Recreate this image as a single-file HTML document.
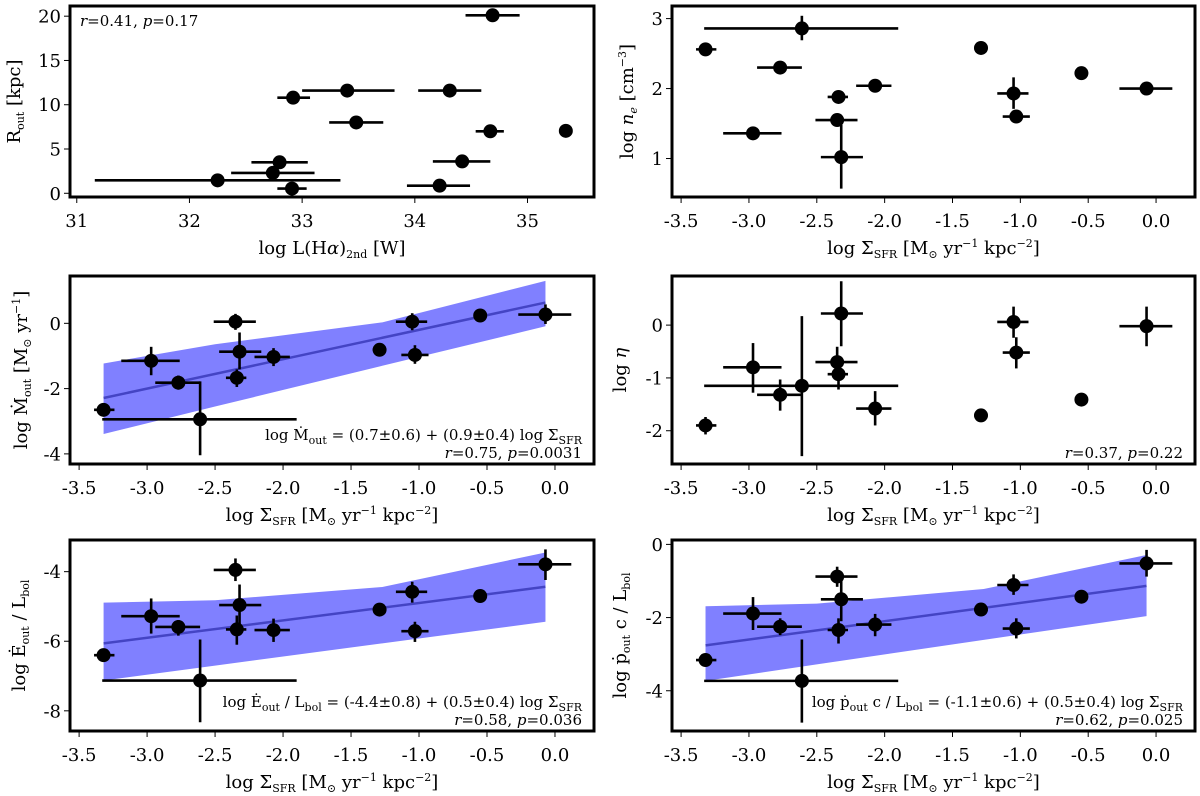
<!DOCTYPE html>
<html><head><meta charset="utf-8"><title>Outflow correlations</title>
<style>
html,body{margin:0;padding:0;background:#fff;}
svg{display:block;font-family:"DejaVu Serif","Liberation Serif",serif;}
</style></head>
<body>
<svg id="fig" width="1200" height="796" viewBox="0 0 1200 796" xmlns="http://www.w3.org/2000/svg"></svg>
<script>
// ---------- data ----------
// Panel 1: R_out vs log L(Halpha)_2nd
const lumX   = [34.69, 33.40, 32.92, 34.31, 33.48, 34.67, 35.34, 32.80, 34.42, 32.74, 32.25, 32.91, 34.22];
const lumLo  = [34.45, 33.00, 32.78, 34.03, 33.24, 34.54, null, 32.55, 34.16, 32.37, 31.16, 32.78, 33.93];
const lumHi  = [34.93, 33.82, 33.07, 34.59, 33.72, 34.79, null, 33.05, 34.67, 33.11, 33.34, 33.04, 34.49];
const routY  = [20.1, 11.6, 10.8, 11.6, 8.0, 7.0, 7.05, 3.5, 3.6, 2.3, 1.46, 0.53, 0.86];

// Shared log Sigma_SFR values for the other panels
const sfrX  = [-3.32, -2.97, -2.77, -2.61, -2.35, -2.32, -2.34, -2.07, -1.29, -1.05, -1.03, -0.55, -0.07];
const sfrLo = [-3.39, -3.19, -2.94, -3.33, -2.51, -2.47, -2.42, -2.21, -1.34, -1.17, -1.13, null, -0.27];
const sfrHi = [-3.24, -2.76, -2.61, -1.90, -2.20, -2.16, -2.27, -1.95, -1.24, -0.94, -0.93, null, 0.12];

// Panel 2: log n_e
const neY  = [2.56, 1.36, 2.30, 2.86, 1.55, 1.02, 1.88, 2.04, 2.58, 1.93, 1.60, 2.22, 2.00];
const neLo = [null, null, null, 2.69, null, 0.57, null, null, null, 1.71, null, null, null];
const neHi = [null, null, null, 3.04, null, 1.48, null, null, null, 2.16, null, null, null];

// Panel 3: log Mdot_out
const mdotY  = [-2.65, -1.15, -1.82, -2.94, 0.05, -0.87, -1.67, -1.03, -0.81, 0.05, -0.97, 0.24, 0.27];
const mdotLo = [null, -1.59, -2.03, -4.04, -0.20, -1.41, -1.95, -1.31, null, -0.21, -1.24, null, -0.02];
const mdotHi = [null, -0.72, -1.60, -1.78, 0.29, -0.28, -1.41, -0.76, null, 0.31, -0.67, null, 0.58];
const mdotFit = [0.7, 0.9];
const mdotBandX  = [-3.32, -2.5, -1.27, -0.07];
const mdotBandUp = [-1.23, -0.64, 0.03, 1.30];
const mdotBandLo = [-3.39, -2.55, -1.30, -0.09];

// Panel 4: log eta
const etaY  = [-1.90, -0.80, -1.32, -1.15, -0.70, 0.22, -0.93, -1.58, -1.71, 0.06, -0.52, -1.41, -0.02];
const etaLo = [-2.07, -1.28, -1.62, -2.48, -0.96, -0.40, -1.22, -1.90, null, -0.24, -0.82, null, -0.40];
const etaHi = [-1.74, -0.34, -1.03, 0.17, -0.41, 0.83, -0.78, -1.25, null, 0.35, -0.23, null, 0.35];

// Panel 5: log Edot_out / L_bol
const edotY  = [-6.40, -5.28, -5.59, -7.13, -3.95, -4.96, -5.66, -5.68, -5.09, -4.58, -5.71, -4.70, -3.79];
const edotLo = [null, -5.78, -5.84, -8.33, -4.27, -5.64, -6.10, -6.02, null, -4.89, -6.02, null, -4.24];
const edotHi = [null, -4.77, -5.39, -5.95, -3.62, -4.37, -5.26, -5.35, null, -4.29, -5.44, null, -3.36];
const edotFit = [-4.4, 0.5];
const edotBandX  = [-3.32, -2.5, -1.27, -0.07];
const edotBandUp = [-4.89, -4.82, -4.44, -3.45];
const edotBandLo = [-7.13, -6.70, -6.06, -5.44];

// Panel 6: log pdot_out c / L_bol
const pdotY  = [-3.16, -1.89, -2.25, -3.73, -0.88, -1.50, -2.34, -2.19, -1.78, -1.11, -2.30, -1.43, -0.52];
const pdotLo = [null, -2.34, -2.48, -4.87, -1.16, -2.10, -2.71, -2.51, null, -1.38, -2.57, null, -0.88];
const pdotHi = [null, -1.44, -2.02, -2.60, -0.61, -0.93, -2.02, -1.90, null, -0.82, -2.02, null, -0.15];
const pdotFit = [-1.1, 0.5];
const pdotBandX  = [-3.32, -2.5, -1.27, -0.07];
const pdotBandUp = [-1.69, -1.62, -1.22, -0.29];
const pdotBandLo = [-3.73, -3.28, -2.61, -1.96];

// Tick labels
const lumTicks = [31, 32, 33, 34, 35];
const sfrTicks = [-3.5, -3.0, -2.5, -2.0, -1.5, -1.0, -0.5, 0.0];
const routTicks = [0, 5, 10, 15, 20];
const neTicks = [1, 2, 3];
const mdotTicks = [-4, -2, 0];
const etaTicks = [-2, -1, 0];
const edotTicks = [-8, -6, -4];
const pdotTicks = [-4, -2, 0];

// ---------- drawing ----------
const NS = 'http://www.w3.org/2000/svg';
const svg = document.getElementById('fig');
function mk(tag, attrs, parent) {
  const e = document.createElementNS(NS, tag);
  for (const k in attrs) e.setAttribute(k, attrs[k]);
  parent.appendChild(e);
  return e;
}
const SFRLIM = [-3.567, 0.287];
const colL = [70, 594], colR = [672, 1195];
const row1 = [6, 197], row2 = [276, 464], row3 = [540, 731];

const SUB = (t) => '<tspan dy="4" font-size="11">' + t + '</tspan><tspan dy="-4">\u200B</tspan>';
const SUP = (t) => '<tspan dy="-7" font-size="11">' + t + '</tspan><tspan dy="7">\u200B</tspan>';
const SFRLAB = 'log \u03A3' + SUB('SFR') + ' [M' + SUB('\u2299') + ' yr' + SUP('\u22121') + ' kpc' + SUP('\u22122') + ']';

const panels = [
  {id:'rout', col:colL, row:row1, xlim:[30.94, 35.59], ylim:[-0.42, 21.15], x:lumX, xlo:lumLo, xhi:lumHi, y:routY, ylo:null, yhi:null,
   xt:lumTicks, xfmt:v=>String(v), yt:routTicks, yfmt:v=>String(v),
   xlab:'log L(H<tspan font-style="italic">\u03B1</tspan>)' + SUB('2nd') + ' [W]', ylab:'R' + SUB('out') + ' [kpc]', ylx:14},
  {id:'ne', col:colR, row:row1, xlim:SFRLIM, ylim:[0.45, 3.18], x:sfrX, xlo:sfrLo, xhi:sfrHi, y:neY, ylo:neLo, yhi:neHi,
   xt:sfrTicks, xfmt:v=>v.toFixed(1), yt:neTicks, yfmt:v=>String(v),
   xlab:SFRLAB, ylab:'log <tspan font-style="italic">n</tspan>' + SUB('<tspan font-style="italic">e</tspan>') + ' [cm' + SUP('\u22123') + ']', ylx:627},
  {id:'mdot', col:colL, row:row2, xlim:SFRLIM, ylim:[-4.31, 1.45], x:sfrX, xlo:sfrLo, xhi:sfrHi, y:mdotY, ylo:mdotLo, yhi:mdotHi,
   xt:sfrTicks, xfmt:v=>v.toFixed(1), yt:mdotTicks, yfmt:v=>String(v),
   fit:mdotFit, bx:mdotBandX, bu:mdotBandUp, bl:mdotBandLo,
   xlab:SFRLAB, ylab:'log \u1E40' + SUB('out') + ' [M' + SUB('\u2299') + ' yr' + SUP('\u22121') + ']', ylx:21,
   eq:'log \u1E40' + SUB('out') + ' = (0.7\u00B10.6) + (0.9\u00B10.4) log \u03A3' + SUB('SFR'), stat:'<tspan font-style="italic">r</tspan>=0.75, <tspan font-style="italic">p</tspan>=0.0031'},
  {id:'eta', col:colR, row:row2, xlim:SFRLIM, ylim:[-2.63, 0.93], x:sfrX, xlo:sfrLo, xhi:sfrHi, y:etaY, ylo:etaLo, yhi:etaHi,
   xt:sfrTicks, xfmt:v=>v.toFixed(1), yt:etaTicks, yfmt:v=>String(v),
   xlab:SFRLAB, ylab:'log <tspan font-style="italic">\u03B7</tspan>', ylx:620,
   stat:'<tspan font-style="italic">r</tspan>=0.37, <tspan font-style="italic">p</tspan>=0.22'},
  {id:'edot', col:colL, row:row3, xlim:SFRLIM, ylim:[-8.58, -3.09], x:sfrX, xlo:sfrLo, xhi:sfrHi, y:edotY, ylo:edotLo, yhi:edotHi,
   xt:sfrTicks, xfmt:v=>v.toFixed(1), yt:edotTicks, yfmt:v=>String(v),
   fit:edotFit, bx:edotBandX, bu:edotBandUp, bl:edotBandLo,
   xlab:SFRLAB, ylab:'log \u0116' + SUB('out') + ' / L' + SUB('bol'), ylx:19,
   eq:'log \u0116' + SUB('out') + ' / L' + SUB('bol') + ' = (-4.4\u00B10.8) + (0.5\u00B10.4) log \u03A3' + SUB('SFR'), stat:'<tspan font-style="italic">r</tspan>=0.58, <tspan font-style="italic">p</tspan>=0.036'},
  {id:'pdot', col:colR, row:row3, xlim:SFRLIM, ylim:[-5.10, 0.12], x:sfrX, xlo:sfrLo, xhi:sfrHi, y:pdotY, ylo:pdotLo, yhi:pdotHi,
   xt:sfrTicks, xfmt:v=>v.toFixed(1), yt:pdotTicks, yfmt:v=>String(v),
   fit:pdotFit, bx:pdotBandX, bu:pdotBandUp, bl:pdotBandLo,
   xlab:SFRLAB, ylab:'log \u1E57' + SUB('out') + ' c / L' + SUB('bol'), ylx:620,
   eq:'log \u1E57' + SUB('out') + ' c / L' + SUB('bol') + ' = (-1.1\u00B10.6) + (0.5\u00B10.4) log \u03A3' + SUB('SFR'), stat:'<tspan font-style="italic">r</tspan>=0.62, <tspan font-style="italic">p</tspan>=0.025'}
];

panels.forEach(p => {
  const [L, R] = p.col, [T, B] = p.row;
  const sx = v => L + (v - p.xlim[0]) / (p.xlim[1] - p.xlim[0]) * (R - L);
  const sy = v => B - (v - p.ylim[0]) / (p.ylim[1] - p.ylim[0]) * (B - T);
  const g = mk('g', {}, svg);
  
  

  // band + fit
  if (p.fit) {
    let pts = [];
    for (let i = 0; i < p.bx.length; i++) pts.push(sx(p.bx[i]) + ',' + sy(p.bu[i]));
    for (let i = p.bx.length - 1; i >= 0; i--) pts.push(sx(p.bx[i]) + ',' + sy(p.bl[i]));
    const band = mk('polygon', {points: pts.join(' '), fill: '#8080ff', stroke: 'none'}, g);
    
    
    const x0 = p.bx[0], x1 = p.bx[p.bx.length - 1];
    const fl = mk('line', {x1: sx(x0), y1: sy(p.fit[0] + p.fit[1] * x0), x2: sx(x1), y2: sy(p.fit[0] + p.fit[1] * x1), stroke: '#4444c4', 'stroke-width': 2.5}, g);
    
    
  }

  // error bars and points
  for (let i = 0; i < p.x.length; i++) {
    const cx = sx(p.x[i]), cy = sy(p.y[i]);
    if (p.xlo && p.xlo[i] !== null) {
      const e = mk('line', {x1: sx(p.xlo[i]), y1: cy, x2: sx(p.xhi[i]), y2: cy, stroke: '#000', 'stroke-width': 2.6}, g);
      
      
    }
    if (p.ylo && p.ylo[i] !== null) {
      const e = mk('line', {x1: cx, y1: sy(p.ylo[i]), x2: cx, y2: sy(p.yhi[i]), stroke: '#000', 'stroke-width': 2.6}, g);
      
      
    }
    const c = mk('circle', {cx: cx, cy: cy, r: 7, fill: '#000'}, g);
    
    
  }

  // frame
  const fr = mk('rect', {x: L, y: T, width: R - L, height: B - T, fill: 'none', stroke: '#000', 'stroke-width': 3}, g);
  
  

  // x ticks
  p.xt.forEach(v => {
    const x = sx(v);
    const t = mk('line', {x1: x, y1: B + 1.5, x2: x, y2: B + 6, stroke: '#000', 'stroke-width': 1}, g);
    
    
    const lb = mk('text', {x: x, y: B + 30, 'font-size': 18, 'text-anchor': 'middle'}, g);
    
    
    lb.textContent = p.xfmt(v);
  });
  // y ticks
  p.yt.forEach(v => {
    const y = sy(v);
    const t = mk('line', {x1: L - 1.5, y1: y, x2: L - 6, y2: y, stroke: '#000', 'stroke-width': 1}, g);
    
    
    const lb = mk('text', {x: L - 9, y: y + 6.5, 'font-size': 18, 'text-anchor': 'end'}, g);
    
    
    lb.textContent = p.yfmt(v);
  });

  // axis labels
  const xl = mk('text', {x: (L + R) / 2, y: B + 57, 'font-size': 18, 'text-anchor': 'middle'}, g);
  
  
  xl.innerHTML = p.xlab;
  const yc = (T + B) / 2;
  const yl = mk('text', {x: 0, y: 0, 'font-size': 18, 'text-anchor': 'middle', transform: 'translate(' + (p.ylx + 6) + ',' + yc + ') rotate(-90)'}, g);
  
  
  yl.innerHTML = p.ylab;

  // annotations
  if (p.eq) {
    const eq = mk('text', {x: R - 12, y: B - 24, 'font-size': 15, 'text-anchor': 'end'}, g);
    
    
    eq.innerHTML = p.eq;
  }
  if (p.stat) {
    const st = mk('text', {x: R - 12, y: B - 6, 'font-size': 15, 'text-anchor': 'end'}, g);
    
    
    st.innerHTML = p.stat;
  }
  if (p.id === 'rout') {
    const st = mk('text', {x: L + 10, y: T + 20, 'font-size': 15, 'text-anchor': 'start'}, g);
    
    
    st.innerHTML = '<tspan font-style="italic">r</tspan>=0.41, <tspan font-style="italic">p</tspan>=0.17';
  }
});
</script>
</body></html>
